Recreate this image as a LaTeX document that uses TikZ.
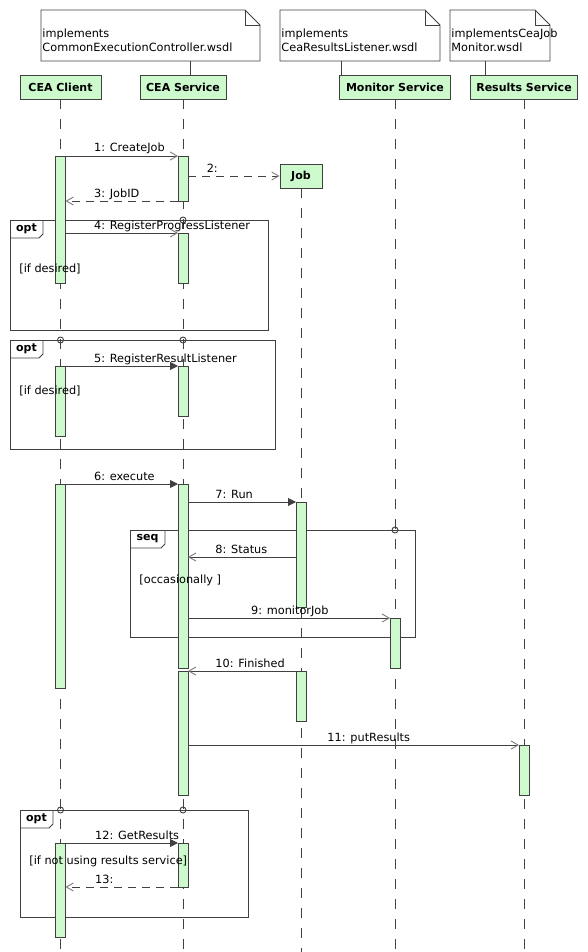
\documentclass[tikz,border=0pt]{standalone}
\usepackage{fontspec}
\setmainfont{DejaVu Sans}
\usetikzlibrary{arrows.meta,positioning}
\definecolor{ink}{HTML}{404040}
\definecolor{tipgray}{HTML}{7A7A7A}
\definecolor{mint}{HTML}{CCFACC}

\begin{document}
\begin{tikzpicture}[
  x=1pt,y=-1pt,
  font=\fontsize{11.3}{14}\selectfont,
  line width=0.9pt,
  head/.style={draw=ink,fill=mint,minimum height=24pt,inner sep=0pt,font=\fontsize{11}{13}\selectfont\bfseries},
  note/.style={anchor=north west,minimum height=51pt,inner sep=0pt,outer sep=0pt},
  notetext/.style={align=left,inner sep=0pt},
  rim/.style={draw=ink},
  life/.style={draw=ink,dash pattern=on 10pt off 10pt},
  frame/.style={draw=ink,anchor=north west,inner sep=0pt,outer sep=0pt},
  tab/.style={anchor=north west,minimum width=33pt,minimum height=18pt,inner sep=0pt,outer sep=0pt,font=\fontsize{11}{13}\selectfont\bfseries},
  act/.style={draw=ink,fill=mint,anchor=north,minimum width=10pt,inner sep=0pt,outer sep=0pt},
  call/.style={draw=ink,-{Straight Barb[length=7pt,width=8pt,color=tipgray]}},
  sync/.style={draw=ink,-{Triangle[length=8pt,width=8pt,color=ink]}},
  reply/.style={call,dash pattern=on 8pt off 6pt},
  msg/.style={anchor=base west,inner sep=0pt,yshift=4pt},
  guard/.style={anchor=base west,inner sep=0pt}
]
\useasboundingbox (0,0) rectangle (588,952);

\node[note,minimum width=219pt] (n1) at (41,10) {};
\node[note,minimum width=160pt] (n2) at (280,10) {};
\node[note,minimum width=100pt] (n3) at (450,10) {};
\node[notetext,above right=9pt and 1pt of n1.south west] (n1t) {implements\\CommonExecutionController.wsdl};
\node[notetext,above right=9pt and 1pt of n2.south west] (n2t) {implements\\CeaResultsListener.wsdl};
\node[notetext,above right=9pt and 1pt of n3.south west] (n3t) {implementsCeaJob\\Monitor.wsdl};
\foreach \n in {n1,n2,n3}{
  \draw[rim] (\n.south west) -- (\n.north west) -- ([xshift=-15pt]\n.north east) -- ([yshift=-15pt]\n.north east) -- (\n.south east) -- cycle;
  \draw[rim] ([xshift=-15pt]\n.north east) |- ([yshift=-15pt]\n.north east);
}

\node[head,minimum width=81pt] (client) at (60.5,87) {CEA Client};
\node[head,minimum width=86pt] (service) at (183,87) {CEA Service};
\node[head,minimum width=111pt] (monitor) at (395,87) {Monitor Service};
\node[head,minimum width=107pt] (results) at (524,87) {Results Service};
\node[head,minimum width=42pt] (job) at (301,176) {Job};

\draw[rim] ([xshift=7pt]service.north) -- ([xshift=7pt]service.north |- n1.south);
\draw[rim] ([xshift=-54pt]monitor.north) -- ([xshift=-54pt]monitor.north |- n2.south);
\draw[rim] ([xshift=-39pt]results.north) -- ([xshift=-39pt]results.north |- n3.south);

\foreach \n in {client,service,job,monitor,results}
  \draw[life] (\n.south) -- (\n.south |- 0,952);

\node[frame,minimum width=258pt,minimum height=110pt] (f1) at (10,220) {};
\node[frame,minimum width=265pt,minimum height=109pt] (f2) at (10,340) {};
\node[frame,minimum width=285pt,minimum height=107pt] (f3) at (130,530) {};
\node[frame,minimum width=228pt,minimum height=107pt] (f4) at (20,810) {};
\node[tab] (t1) at (f1.north west) {opt};
\node[tab] (t2) at (f2.north west) {opt};
\node[tab,minimum width=35pt] (t3) at (f3.north west) {seq};
\node[tab] (t4) at (f4.north west) {opt};
\foreach \t in {t1,t2,t3,t4}
  \draw[rim] (\t.south west) -- ([xshift=-4pt]\t.south east) -- ([yshift=4pt]\t.south east) -- (\t.north east);
\draw[rim] (f1.north -| service) circle (3pt);
\draw[rim] (f2.north -| client) circle (3pt);
\draw[rim] (f2.north -| service) circle (3pt);
\draw[rim] (f3.north -| monitor) circle (3pt);
\draw[rim] (f4.north -| client) circle (3pt);
\draw[rim] (f4.north -| service) circle (3pt);

\node[act,minimum height=127pt] (c1) at (client.south |- 0,156) {};
\node[act,minimum height=70pt] (c2) at (client.south |- 0,366) {};
\node[act,minimum height=204pt] (c3) at (client.south |- 0,484) {};
\node[act,minimum height=94pt] (c4) at (client.south |- 0,843) {};
\node[act,minimum height=45pt] (s1) at (service.south |- 0,156) {};
\node[act,minimum height=50pt] (s2) at (service.south |- 0,233) {};
\node[act,minimum height=50pt] (s3) at (service.south |- 0,366) {};
\node[act,minimum height=184pt] (s4) at (service.south |- 0,484) {};
\node[act,minimum height=124pt] (s5) at (service.south |- 0,671) {};
\node[act,minimum height=44pt] (s6) at (service.south |- 0,843) {};
\node[act,minimum height=105pt] (j1) at (job.south |- 0,502) {};
\node[act,minimum height=50pt] (j2) at (job.south |- 0,671) {};
\node[act,minimum height=50pt] (m1) at (monitor.south |- 0,618) {};
\node[act,minimum height=50pt] (r1) at (results.south |- 0,745) {};

\draw[call] (c1.north east) -- node[msg,pos=.25] (l1) {1: CreateJob} (s1.north west);
\draw[reply] (s1.east |- job.west) -- node[msg,pos=.2] (l2) {2:} (job.west);
\draw[reply] (s1.south west) -- node[msg,pos=.75] (l3) {3: JobID} (c1.east |- s1.south);
\draw[call] (c1.east |- s2.north) -- node[msg,pos=.25] (l4) {4: RegisterProgressListener} (s2.north west);
\draw[sync] (c2.north east) -- node[msg,pos=.25] (l5) {5: RegisterResultListener} (s3.north west);
\draw[sync] (c3.north east) -- node[msg,pos=.25] (l6) {6: execute} (s4.north west);
\draw[sync] (s4.east |- j1.north) -- node[msg,pos=.25] (l7) {7: Run} (j1.north west);
\draw[call] (j1.west |- 0,557) -- node[msg,pos=.75] (l8) {8: Status} (s4.east |- 0,557);
\draw[call] (s4.east |- m1.north) -- node[msg,pos=.31] (l9) {9: monitorJob} (m1.north west);
\draw[call] (j2.north west) -- node[msg,pos=.75] (l10) {10: Finished} (s5.north east);
\draw[call] (s5.east |- r1.north) -- node[msg,pos=.42] (l11) {11: putResults} (r1.north west);
\draw[sync] (c4.north east) -- node[msg,pos=.26] (l12) {12: GetResults} (s6.north west);
\draw[reply] (s6.south west) -- node[msg,pos=.74] (l13) {13:} (c4.east |- s6.south);

\node[guard] (g1) at (19,272) {[if desired]};
\node[guard] (g2) at (19,394) {[if desired]};
\node[guard] (g3) at (139,583) {[occasionally ]};
\node[guard] (g4) at (29,864) {[if not using results service]};
\end{tikzpicture}
\end{document}
